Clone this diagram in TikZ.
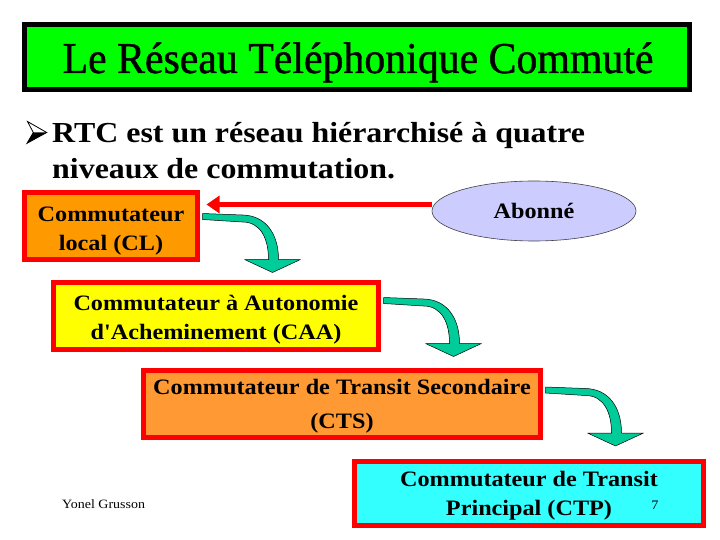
\documentclass[tikz,border=0pt]{standalone}
\usepackage{fontspec}
\setmainfont{Liberation Serif}
\newfontfamily\ttlfont{Liberation Serif}[FakeStretch=0.95,FakeBold=1]
\newfontfamily\stfont{Liberation Serif}[FakeStretch=1.1]
\usetikzlibrary{arrows.meta,calc,shapes.geometric}
\definecolor{titlegreen}{RGB}{0,255,0}
\definecolor{boxred}{RGB}{255,0,0}
\definecolor{clorange}{RGB}{255,153,0}
\definecolor{caayellow}{RGB}{255,255,0}
\definecolor{ctsorange}{RGB}{255,153,51}
\definecolor{ctpcyan}{RGB}{51,255,255}
\definecolor{lav}{RGB}{204,204,255}
\definecolor{tealarr}{RGB}{0,204,153}
\newcommand\boxfont{\stfont\bfseries\fontsize{22}{29}\selectfont}
\newcommand\bendarrow[1]{%
  \begin{scope}[shift={(#1)}]
    \filldraw[tealarrowstyle] (0,-3) -- (40,-1.5) .. controls (63,-1) and (76,17) .. (76,43)
      -- (98,43) -- (70,56) -- (42,43) -- (66,43)
      .. controls (66,22) and (58,5.5) .. (40,5.5) -- (0,3) -- cycle;
  \end{scope}}
\begin{document}
\begin{tikzpicture}[x=1pt,y=-1pt,
  box/.style={draw=boxred, line width=5pt, inner sep=0pt},
  boxtext/.style={align=center, font=\boxfont, inner sep=0pt},
  tealarrowstyle/.style={fill=tealarr, draw=black, line width=0.5pt, line join=round}]
\useasboundingbox[fill=white] (0,0) rectangle (720,540);
% title
\node[draw=black, line width=5pt, fill=titlegreen, minimum width=665pt, minimum height=65pt, inner sep=0pt] (title) at (357,57) {};
\node[anchor=base, font=\ttlfont\fontsize{44}{44}\selectfont, inner sep=0pt] (titletext) at (358,73) {Le Réseau Téléphonique Commuté};
% bullet
\draw[line width=0.8pt, line join=miter] (27.5,121.5) -- (46.7,132.5) -- (27,143.3) -- (33.3,132.5) -- cycle;
\fill (33.3,132.5) -- (46.7,132.5) -- (27,143.3) -- cycle;
\node[anchor=base west, inner sep=0pt, font=\stfont\bfseries\fontsize{29}{29}\selectfont] (line1) at (52,143) {RTC est un réseau hiérarchisé à quatre};
\node[anchor=base west, inner sep=0pt, font=\stfont\bfseries\fontsize{29}{29}\selectfont] (line2) at (52,179) {niveaux de commutation.};
% boxes
\node[box, fill=clorange, minimum width=173pt, minimum height=67pt] (cl) at (111,226) {};
\node[boxtext] (cltext) at ($(cl)+(0,5)$) {Commutateur\\local (CL)};
\node[box, fill=caayellow, minimum width=325pt, minimum height=67pt] (caa) at (216,316) {};
\node[boxtext] (caatext) at ($(caa)+(0,4)$) {Commutateur à Autonomie\\d'Acheminement (CAA)};
\node[box, fill=ctsorange, minimum width=397pt, minimum height=67pt] (cts) at (342,404) {};
\node[boxtext] (ctstext) at ($(cts)+(0,2.5)$) {Commutateur de Transit Secondaire\\[5pt](CTS)};
\node[box, fill=ctpcyan, minimum width=349pt, minimum height=64pt] (ctp) at (529,493.5) {};
\node[boxtext] (ctptext) at ($(ctp)+(0,2.5)$) {Commutateur de Transit\\Principal (CTP)};
\node[ellipse, draw=black!75, line width=0.6pt, fill=lav, minimum width=204pt, minimum height=60pt, inner sep=0pt, font=\boxfont] (ab) at (534,211) {Abonné};
% red arrow
\draw[boxred, line width=5pt, -{Triangle[length=13pt,width=17pt]}] ($(ab.west)+(0,-6.5)$) -- ($(cl.east)+(6.5,-21.5)$);
% bent arrows
\coordinate (s1) at ($(cl.east)+(2.5,-9.5)$);
\coordinate (s2) at ($(caa.east)+(2.5,-15.5)$);
\coordinate (s3) at ($(cts.east)+(2.5,-14)$);
\bendarrow{s1}
\bendarrow{s2}
\bendarrow{s3}
% footer
\node[anchor=base west, inner sep=0pt, font=\stfont\fontsize{12.7}{13}\selectfont] (author) at (62,508) {Yonel Grusson};
\node[anchor=base, inner sep=0pt, font=\stfont\fontsize{13}{13}\selectfont] (page) at (655,509) {7};
\end{tikzpicture}
\end{document}
